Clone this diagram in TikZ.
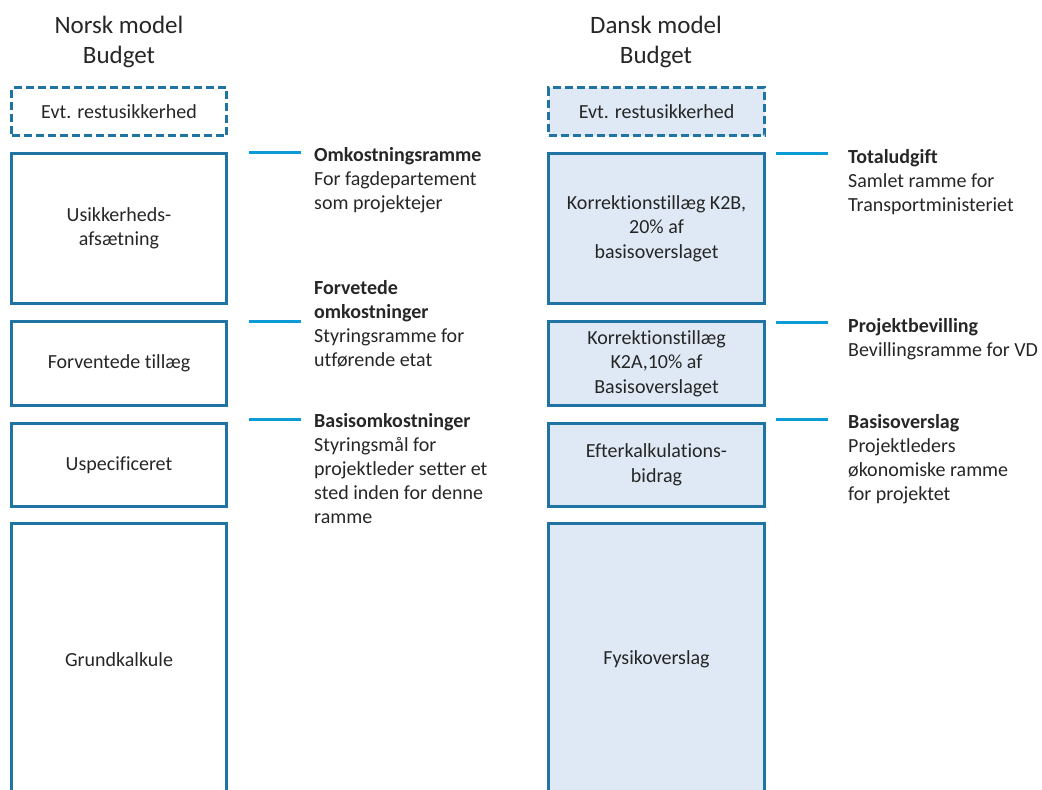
\documentclass[tikz,border=0pt]{standalone}
\usepackage{fontspec}
\setmainfont{Carlito}[Ligatures=NoCommon]
\definecolor{edge}{HTML}{1F74A3}
\definecolor{pale}{HTML}{DEE9F5}
\definecolor{tick}{HTML}{0B9BD7}
\definecolor{ink}{HTML}{262626}
% left-aligned block whose reference point is the first baseline
\newcommand{\firstline}[1]{\begin{tabular}[t]{@{}l@{}}#1\end{tabular}}
\begin{document}
\begin{tikzpicture}[x=1pt,y=-1pt,
  every node/.style={text=ink},
  title/.style={font=\fontsize{25}{30}\selectfont, align=center, anchor=base, inner sep=0},
  budgetbox/.style={draw=edge, line width=3pt, align=center, inner sep=0,
    font=\fontsize{20}{24.5}\selectfont},
  openbox/.style={budgetbox, dash pattern=on 8pt off 4pt},
  dkfill/.style={fill=pale},
  leftcol/.style={minimum width=215pt},
  rightcol/.style={minimum width=216pt},
  marker/.style={draw=tick, line width=3pt},
  note/.style={anchor=base west, inner sep=0,
    font=\fontsize{20}{24}\selectfont}]
\useasboundingbox (0,0) rectangle (1042,790);
\begin{scope}
\clip (0,0) rectangle (1042,790);

% column headings
\node[title] (tno) at (119,33) {Norsk model};
\node[title] (tnob) at (119,63) {Budget};
\node[title] (tdk) at (656,33) {Dansk model};
\node[title] (tdkb) at (656,63) {Budget};

% Norwegian model stack
\node[openbox, leftcol, minimum height=48pt] (n0) at (119,111.5) {Evt. restusikkerhed};
\node[budgetbox, leftcol, minimum height=150pt] (n1) at (119,228.5) {Usikkerheds-\\afsætning};
\node[budgetbox, leftcol, minimum height=84pt] (n2) at (119,363.5) {Forventede tillæg};
\node[budgetbox, leftcol, minimum height=83pt] (n3) at (119,465) {Uspecificeret};
\node[budgetbox, leftcol, minimum height=272pt] (n4) at (119,659.5) {Grundkalkule};

% Danish model stack
\node[openbox, dkfill, rightcol, minimum height=48pt] (d0) at (656.5,111.5) {Evt. restusikkerhed};
\node[budgetbox, dkfill, rightcol, minimum height=150pt] (d1) at (656.5,228.5) {Korrektionstillæg K2B,\\20\% af\\basisoverslaget};
\node[budgetbox, dkfill, rightcol, minimum height=84pt] (d2) at (656.5,363.5) {Korrektionstillæg\\K2A,10\% af\\Basisoverslaget};
\node[budgetbox, dkfill, rightcol, minimum height=83pt] (d3) at (656.5,465) {Efterkalkulations-\\bidrag};
\node[budgetbox, dkfill, rightcol, minimum height=272pt] (d4) at (656.5,659.5) {Fysikoverslag};
\end{scope}

% level markers
\coordinate (ma1) at (249,152);   \coordinate (mb1) at (301,152);
\coordinate (ma2) at (249,321);   \coordinate (mb2) at (301,321);
\coordinate (ma3) at (249,419);   \coordinate (mb3) at (301,419);
\coordinate (mc1) at (776,153);   \coordinate (md1) at (828,153);
\coordinate (mc2) at (776,322);   \coordinate (md2) at (828,322);
\coordinate (mc3) at (776,419);   \coordinate (md3) at (828,419);
\draw[marker] (ma1) -- (mb1);
\draw[marker] (ma2) -- (mb2);
\draw[marker] (ma3) -- (mb3);
\draw[marker] (mc1) -- (md1);
\draw[marker] (mc2) -- (md2);
\draw[marker] (mc3) -- (md3);

% descriptions, Norwegian side
\node[note] (ln1) at (314,161) {\firstline{\textbf{Omkostningsramme}\\For fagdepartement\\som projektejer}};
\node[note] (ln2) at (314,294) {\firstline{\textbf{Forvetede}\\\textbf{omkostninger}\\Styringsramme for\\utførende etat}};
\node[note] (ln3) at (314,427) {\firstline{\textbf{Basisomkostninger}\\Styringsmål for\\projektleder setter et\\sted inden for denne\\ramme}};

% descriptions, Danish side
\node[note] (ld1) at (848,163) {\firstline{\textbf{Totaludgift}\\Samlet ramme for\\Transportministeriet}};
\node[note] (ld2) at (848,332) {\firstline{\textbf{Projektbevilling}\\Bevillingsramme for VD}};
\node[note] (ld3) at (848,428) {\firstline{\textbf{Basisoverslag}\\Projektleders\\økonomiske ramme\\for projektet}};
\end{tikzpicture}
\end{document}
